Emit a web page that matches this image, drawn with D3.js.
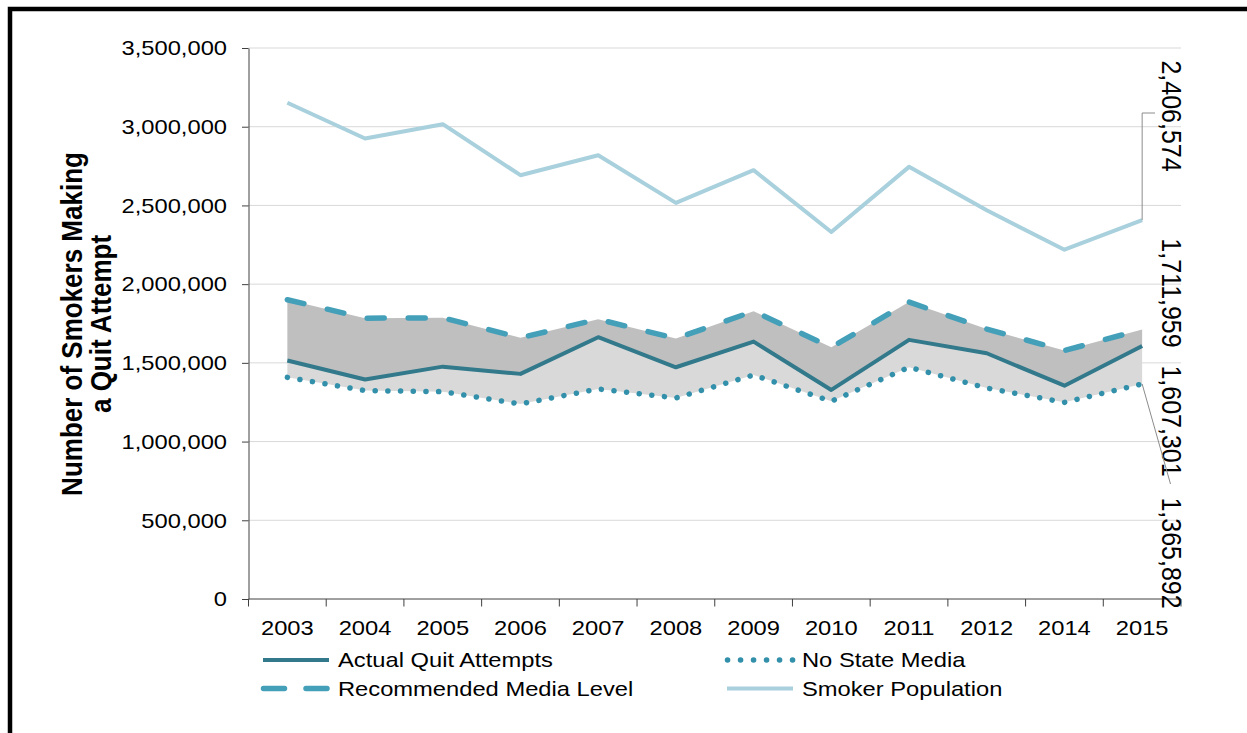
<!DOCTYPE html>
<html>
<head>
<meta charset="UTF-8">
<title>Smokers Making a Quit Attempt</title>
<script src="https://cdn.jsdelivr.net/npm/d3@7/dist/d3.min.js"></script>
<style>
  body { margin: 0; background: #fff; }
  text { font-family: "Liberation Sans", Arial, sans-serif; fill: #000; }
</style>
</head>
<body>
<svg width="1247" height="733"></svg>
<script>
// data
var years = ["2003","2004","2005","2006","2007","2008","2009","2010","2011","2012","2014","2015"];
var smokerPop    = [3152000, 2925000, 3016000, 2692000, 2819000, 2516000, 2724000, 2331000, 2745000, 2469000, 2219000, 2406574];
var recommended  = [1901000, 1784000, 1786000, 1659000, 1777000, 1655000, 1828000, 1599000, 1886000, 1715000, 1578000, 1711959];
var actual       = [1515000, 1394000, 1476000, 1430000, 1663000, 1472000, 1635000, 1328000, 1646000, 1561000, 1355000, 1607301];
var noStateMedia = [1408000, 1324000, 1317000, 1239000, 1334000, 1277000, 1423000, 1256000, 1472000, 1340000, 1249000, 1365892];
var yTicks = [0, 500000, 1000000, 1500000, 2000000, 2500000, 3000000, 3500000];

var fmt = d3.format(",");
var SX = 1.13; // text in the picture is a bit wide

var svg = d3.select("svg");

// frame
svg.append("rect")
  .attr("x", 10).attr("y", 9).attr("width", 1400).attr("height", 900)
  .attr("fill", "none").attr("stroke", "#000").attr("stroke-width", 4.5);

var x = d3.scaleBand().domain(years).range([248.5, 1181]);
var y = d3.scaleLinear().domain([0, 3500000]).range([599, 48]);
var cx = function(i) { return x(years[i]) + x.bandwidth() / 2; };
var idx = d3.range(years.length);

// gridlines
svg.append("g").selectAll("line")
  .data(yTicks.filter(function(d) { return d > 0; }))
  .enter().append("line")
  .attr("x1", 248.5).attr("x2", 1181)
  .attr("y1", function(d) { return y(d); }).attr("y2", function(d) { return y(d); })
  .attr("stroke", "#d9d9d9").attr("stroke-width", 1);

// shaded bands
var bandDark = d3.area().x(cx)
  .y0(function(i) { return y(actual[i]); })
  .y1(function(i) { return y(recommended[i]); });
var bandLight = d3.area().x(cx)
  .y0(function(i) { return y(noStateMedia[i]); })
  .y1(function(i) { return y(actual[i]); });
svg.append("path").attr("d", bandDark(idx)).attr("fill", "#bfbfbf");
svg.append("path").attr("d", bandLight(idx)).attr("fill", "#d9d9d9");

// series lines
var series = [
  {name: "Actual Quit Attempts",     vals: actual,       color: "#31798b", width: 4,   dash: null,       cap: "butt"},
  {name: "No State Media",           vals: noStateMedia, color: "#3390aa", width: 5.5, dash: "0.1,12.6", cap: "round"},
  {name: "Recommended Media Level",  vals: recommended,  color: "#449fb9", width: 5.5, dash: "17,24",    cap: "round"},
  {name: "Smoker Population",        vals: smokerPop,    color: "#a9d0dd", width: 4,   dash: null,       cap: "butt"}
];

series.forEach(function(s) {
  var line = d3.line().x(cx).y(function(i) { return y(s.vals[i]); });
  svg.append("path")
    .attr("d", line(idx))
    .attr("fill", "none")
    .attr("stroke", s.color)
    .attr("stroke-width", s.width)
    .attr("stroke-linecap", s.cap)
    .attr("stroke-linejoin", "round")
    .attr("stroke-dasharray", s.dash);
});

// y axis
var yAxis = svg.append("g")
  .attr("transform", "translate(248.5,0)")
  .call(d3.axisLeft(y).tickValues(yTicks).tickFormat(fmt).tickSize(6.5).tickSizeOuter(0).tickPadding(12.5));
yAxis.selectAll("path, line").attr("stroke", "#404040");
yAxis.selectAll("text")
  .style("font-size", "21px")
  .style("font-family", "'Liberation Sans', Arial, sans-serif")
  .attr("fill", "#000")
  .attr("transform", "scale(" + SX + ",1)");

// x axis line + boundary ticks
svg.append("line")
  .attr("x1", 248.5).attr("x2", 1181).attr("y1", 599).attr("y2", 599)
  .attr("stroke", "#404040");
svg.append("g").selectAll("line")
  .data(years.map(function(c) { return x(c); }).concat([x.range()[1]]))
  .enter().append("line")
  .attr("x1", function(d) { return d; }).attr("x2", function(d) { return d; })
  .attr("y1", 599).attr("y2", 606.5)
  .attr("stroke", "#404040");

var xAxis = svg.append("g")
  .attr("transform", "translate(0,599)")
  .call(d3.axisBottom(x).tickSize(0).tickPadding(21));
xAxis.select(".domain").remove();
xAxis.selectAll("text")
  .style("font-size", "21px")
  .style("font-family", "'Liberation Sans', Arial, sans-serif")
  .attr("fill", "#000")
  .attr("transform", "scale(" + SX + ",1)");

// y title
var titleLines = ["Number of Smokers Making", "a Quit Attempt"];
var titleX = [82, 110.5];
titleLines.forEach(function(t, i) {
  svg.append("text")
    .attr("transform", "translate(" + titleX[i] + ",324) rotate(-90) scale(1," + SX + ")")
    .attr("text-anchor", "middle")
    .style("font-size", "26px")
    .style("font-weight", "bold")
    .text(t);
});

// end-of-line value labels
var last = years.length - 1;
var endVals = [smokerPop[last], recommended[last], actual[last], noStateMedia[last]];
var labelY = [116, 293, 421, 553];
endVals.forEach(function(v, i) {
  svg.append("text")
    .attr("transform", "translate(1162," + labelY[i] + ") rotate(90) scale(1," + SX + ")")
    .attr("text-anchor", "middle")
    .style("font-size", "25px")
    .text(fmt(v));
});

// leader lines
var ex = cx(last);
svg.append("path")
  .attr("d", "M" + ex + "," + y(smokerPop[last]) + "V113H1155")
  .attr("fill", "none").attr("stroke", "#8c8c8c").attr("stroke-width", 1);
svg.append("path")
  .attr("d", "M" + ex + "," + y(noStateMedia[last]) + "L1170.5,484")
  .attr("fill", "none").attr("stroke", "#8c8c8c").attr("stroke-width", 1);

// legend
var legendPos = [
  {s: 0, x: 261, y: 660},
  {s: 1, x: 725, y: 660},
  {s: 2, x: 261, y: 688.5},
  {s: 3, x: 725, y: 688.5}
];
legendPos.forEach(function(p) {
  var s = series[p.s];
  var lg = svg.append("g").attr("transform", "translate(" + p.x + "," + p.y + ")");
  var sample = lg.append("line")
    .attr("x1", 2).attr("x2", 68)
    .attr("stroke", s.color)
    .attr("stroke-width", s.width)
    .attr("stroke-linecap", s.cap);
  if (s.dash === "17,24") sample.attr("x1", 2.5).attr("x2", 68).attr("stroke-dasharray", "21,21.5");
  else if (s.dash) sample.attr("x1", 2.5).attr("x2", 68).attr("stroke-dasharray", "0.1,12.9");
  lg.append("text")
    .attr("transform", "translate(77,0) scale(" + SX + ",1)")
    .attr("dy", "0.35em")
    .style("font-size", "21px")
    .text(s.name);
});
</script>
</body>
</html>
